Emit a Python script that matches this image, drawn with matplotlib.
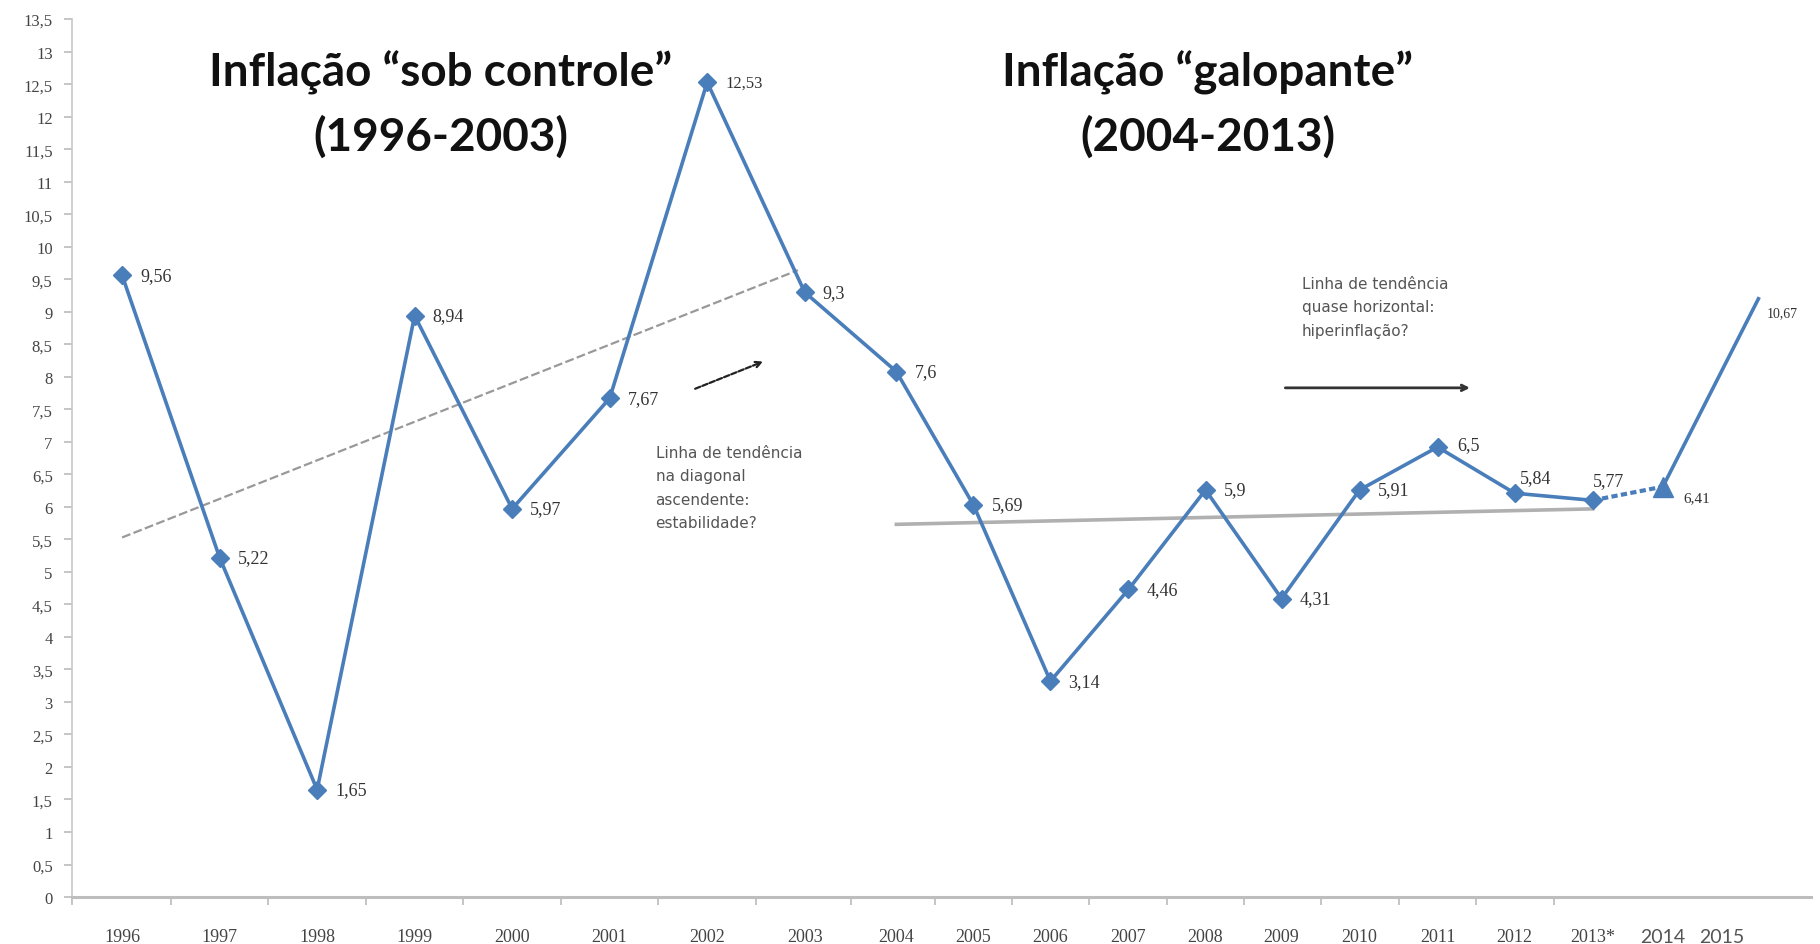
import numpy as np
import matplotlib
matplotlib.use("Agg")
import matplotlib.pyplot as plt

# Dados (posição no eixo e rótulo impresso)
anos = ["1996", "1997", "1998", "1999", "2000", "2001", "2002", "2003", "2004", "2005",
        "2006", "2007", "2008", "2009", "2010", "2011", "2012", "2013*", "2014", "2015"]
inflacao = [9.56, 5.22, 1.65, 8.94, 5.97, 7.67, 12.53, 9.30, 8.08, 6.03,
            3.32, 4.73, 6.26, 4.59, 6.26, 6.92, 6.21, 6.10, 6.31, 9.20]
rotulos = ["9,56", "5,22", "1,65", "8,94", "5,97", "7,67", "12,53", "9,3", "7,6", "5,69",
           "3,14", "4,46", "5,9", "4,31", "5,91", "6,5", "5,84", "5,77", "6,41", "10,67"]
# posição de cada ano no eixo x (o espaçamento não é uniforme no original)
posicao = np.array([0, 1, 2, 3, 4, 5, 6, 7, 7.94, 8.73, 9.52, 10.32, 11.11, 11.89,
                    12.69, 13.49, 14.28, 15.08, 15.8, 16.78])

azul = "#4a7ebb"

fig = plt.figure(figsize=(18.2, 9.45), dpi=100)
ax = fig.add_axes([0.0396, 0.0497, 0.9555, 0.929])

# série principal 1996-2013
ax.plot(posicao[:18], inflacao[:18], color=azul, lw=2.6, marker="D", ms=9.5, zorder=3)
# 2013 -> 2014 pontilhado, 2014 -> 2015 contínuo
ax.plot(posicao[17:19], inflacao[17:19], color=azul, lw=3, ls=(0, (1.5, 0.8)), zorder=3)
ax.plot(posicao[18:], inflacao[18:], color=azul, lw=2.6, zorder=3)
ax.plot(posicao[18], inflacao[18], color=azul, marker="^", ms=15, zorder=4)

# linhas de tendência
y1 = np.array(inflacao[:8])
c1 = np.polyfit(np.arange(8), y1, 1)
ax.plot([posicao[0], posicao[7] - 0.07], np.polyval(c1, [0, 6.93]),
        color="#999999", lw=1.6, ls=(0, (4, 1.5)), zorder=2)
y2 = np.array(inflacao[8:18])
c2 = np.polyfit(np.arange(10), y2, 1)
ax.plot([posicao[8], posicao[17]], np.polyval(c2, [0, 9]),
        color="#b0b0b0", lw=2.6, zorder=2)

# rótulos dos pontos
desloc = {16: (4, 11), 17: (0, 14), 18: (15, -8), 19: (6, -10), 15: (14, 2)}
tam = {6: 12, 18: 11, 19: 10}
for i, txt in enumerate(rotulos):
    dx, dy = desloc.get(i, (13, 0))
    ax.annotate(txt, (posicao[i], inflacao[i]), xytext=(dx, dy), textcoords="offset points",
                ha="left", va="center", fontsize=tam.get(i, 13), family="Liberation Serif",
                color="#333333")

# títulos
ax.text(3.27, 12.2, "Inflação “sob controle”\n(1996-2003)", ha="center", va="center",
        fontsize=33, fontweight="bold", family="Lato",
        linespacing=1.55, color="#111111")
ax.text(11.13, 12.2, "Inflação “galopante”\n(2004-2013)", ha="center", va="center",
        fontsize=33, fontweight="bold", family="Lato",
        linespacing=1.55, color="#111111")

# notas e setas
ax.text(5.47, 6.95, "Linha de tendência\nna diagonal\nascendente:\nestabilidade?",
        ha="left", va="top", fontsize=11, color="#555555", linespacing=1.7)
ax.text(12.1, 9.55, "Linha de tendência\nquase horizontal:\nhiperinflação?",
        ha="left", va="top", fontsize=11, color="#555555", linespacing=1.7)
ax.annotate("", xy=(6.6, 8.25), xytext=(5.85, 7.8),
            arrowprops=dict(arrowstyle="->", color="#222222", lw=1.6, ls=(0, (2.5, 1))))
ax.annotate("", xy=(13.85, 7.83), xytext=(11.9, 7.83),
            arrowprops=dict(arrowstyle="->", color="#333333", lw=2))

# eixos
ax.set_xlim(-0.513, 17.32)
ax.set_ylim(0, 13.5)
yt = np.arange(0, 13.51, 0.5)
ax.set_yticks(yt)
ax.set_yticklabels([("%g" % v).replace(".", ",") for v in yt], family="Liberation Serif",
                   fontsize=12, color="#444444")
pos_rot = posicao.copy()
pos_rot[-1] = 16.4
ax.set_xticks(pos_rot)
ax.set_xticklabels(anos, family="Liberation Serif", fontsize=13, color="#444444")
for lab in ax.get_xticklabels()[-2:]:
    lab.set_family("Lato")
    lab.set_fontsize(14)
    lab.set_color("#555555")
bordas = np.concatenate([[-0.513], (posicao[:-1] + posicao[1:]) / 2])
ax.set_xticks(bordas[:18], minor=True)
ax.tick_params(axis="x", which="major", length=0, pad=22)
ax.tick_params(axis="x", which="minor", length=6, color="#bbbbbb", width=1.2)
ax.tick_params(axis="y", length=6, color="#bbbbbb", width=1.2, pad=8)

for s in ["top", "right"]:
    ax.spines[s].set_visible(False)
ax.spines["left"].set_color("#c8c8c8")
ax.spines["left"].set_linewidth(1.2)
ax.spines["bottom"].set_color("#bdbdbd")
ax.spines["bottom"].set_linewidth(2.2)

fig.savefig("out.png", dpi=100)
